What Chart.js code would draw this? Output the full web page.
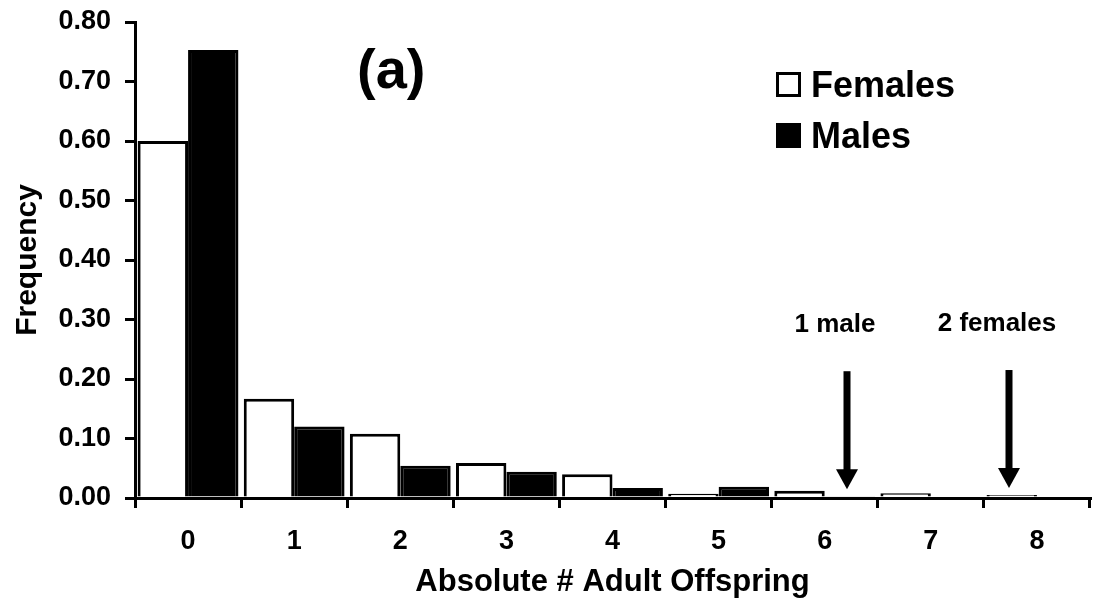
<!DOCTYPE html>
<html>
<head>
<meta charset="utf-8">
<script src="https://cdn.jsdelivr.net/npm/chart.js@4"></script>
<style>
  html, body { margin: 0; padding: 0; background: #fff; }
  #wrap { width: 1095px; height: 610px; position: relative; }
</style>
</head>
<body>
<div id="wrap"><canvas id="offspringChart"></canvas></div>
<script>
// values
const categories = ["0", "1", "2", "3", "4", "5", "6", "7", "8"];
const females = [0.600, 0.167, 0.108, 0.059, 0.040, 0.007, 0.012, 0.008, 0.005];
const males = [0.753, 0.120, 0.054, 0.044, 0.017, 0.019, 0.003, 0.000, 0.000];
const yTicks = [0, 0.1, 0.2, 0.3, 0.4, 0.5, 0.6, 0.7, 0.8];
const notes = [
  { text: "1 male", index: 6, dataset: 1 },
  { text: "2 females", index: 8, dataset: 0 },
];

const FONT = "'Liberation Sans', Arial, Helvetica, sans-serif";

// legend, panel letter and arrows are drawn on top of the chart
const extras = {
  id: "extras",
  afterDraw(chart) {
    const ctx = chart.ctx;
    const area = chart.chartArea;
    ctx.save();
    ctx.fillStyle = "#000";
    ctx.strokeStyle = "#000";

    // panel letter
    ctx.font = "bold 56px " + FONT;
    ctx.textBaseline = "alphabetic";
    ctx.textAlign = "left";
    ctx.fillText("(a)", area.left + 222, 88);

    // legend
    ctx.font = "bold 36px " + FONT;
    chart.data.datasets.forEach(function (ds, i) {
      const bx = area.left + 641;
      const by = 72 + i * 51;
      ctx.fillStyle = ds.backgroundColor;
      ctx.fillRect(bx, by, 25, 25);
      ctx.lineWidth = 3;
      ctx.strokeStyle = "#000";
      ctx.strokeRect(bx + 1.5, by + 1.5, 22, 22);
      ctx.fillStyle = "#000";
      ctx.fillText(ds.label, bx + 35, by + 25);
    });

    // arrows with notes
    ctx.font = "bold 26px " + FONT;
    ctx.textAlign = "center";
    notes.forEach(function (n) {
      const bar = chart.getDatasetMeta(n.dataset).data[n.index];
      const x = Math.round(bar.x) - 3;
      const tip = bar.y - 7;
      const headTop = tip - 20;
      const shaftTop = tip - 118;
      ctx.fillRect(x - 3.5, shaftTop, 7, headTop - shaftTop + 1);
      ctx.beginPath();
      ctx.moveTo(x - 11, headTop);
      ctx.lineTo(x + 11, headTop);
      ctx.lineTo(x, tip);
      ctx.closePath();
      ctx.fill();
      ctx.fillText(n.text, x - 12, shaftTop - 39);
    });
    ctx.restore();
  },
};

const ctx = document.getElementById("offspringChart").getContext("2d");
new Chart(ctx, {
  type: "bar",
  data: {
    labels: categories,
    datasets: [
      {
        label: "Females",
        data: females,
        backgroundColor: "#ffffff",
        borderColor: "#000000",
        borderWidth: 3,
      },
      {
        label: "Males",
        data: males,
        backgroundColor: "#000000",
        borderColor: "#000000",
        borderWidth: 3,
      },
    ],
  },
  options: {
    responsive: true,
    maintainAspectRatio: false,
    animation: false,
    layout: { padding: { top: 22, right: 5, bottom: 0, left: 0 } },
    datasets: { bar: { categoryPercentage: 0.95, barPercentage: 1.0 } },
    plugins: {
      legend: { display: false },
      tooltip: { enabled: false },
    },
    scales: {
      x: {
        grid: {
          offset: true,
          drawOnChartArea: false,
          color: "#000",
          lineWidth: 3,
          tickLength: 10,
        },
        border: { color: "#000", width: 3 },
        ticks: {
          color: "#000",
          padding: 17,
          font: { family: FONT, size: 27, weight: "bold" },
        },
        title: {
          display: true,
          text: "Absolute # Adult Offspring",
          color: "#000",
          padding: { top: 0, bottom: 9 },
          font: { family: FONT, size: 31, weight: "bold" },
        },
        afterFit(scale) {
          scale.height = 112;
          scale.paddingLeft = 0;
          scale.paddingRight = 0;
        },
      },
      y: {
        min: 0,
        max: 0.8,
        afterBuildTicks(scale) {
          scale.ticks = yTicks.map((v) => ({ value: v }));
        },
        grid: {
          drawOnChartArea: false,
          color: "#000",
          lineWidth: 3,
          tickLength: 10,
        },
        border: { color: "#000", width: 3 },
        ticks: {
          color: "#000",
          padding: 14,
          font: { family: FONT, size: 27, weight: "bold" },
          callback: (v) => Number(v).toFixed(2),
        },
        title: {
          display: true,
          text: "Frequency",
          color: "#000",
          padding: { top: 10, bottom: 0 },
          font: { family: FONT, size: 30, weight: "bold" },
        },
        afterFit(scale) {
          scale.width = 135;
          scale.paddingTop = 0;
          scale.paddingBottom = 0;
        },
      },
    },
  },
  plugins: [extras],
});
</script>
</body>
</html>
